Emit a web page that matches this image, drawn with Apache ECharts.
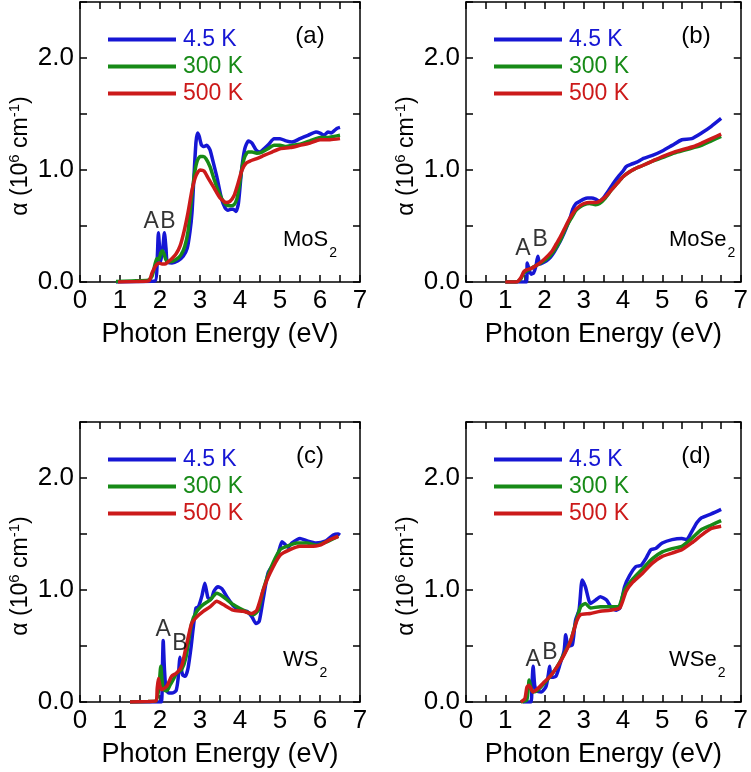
<!DOCTYPE html>
<html>
<head>
<meta charset="utf-8">
<script src="https://cdn.jsdelivr.net/npm/echarts@6/dist/echarts.min.js"></script>
<style>
  html, body { margin: 0; padding: 0; background: #fff; }
  #chart { width: 751px; height: 772px; }
</style>
</head>
<body>
<div id="chart"></div>
<script>
// photon energy (eV), absorption (10^6 cm^-1)
const mos2_4K = [[0.9,0],[1.5,0.005],[1.88,0.01],[1.93,0.2],[1.96,0.44],[1.99,0.3],[2.02,0.18],[2.07,0.3],[2.11,0.44],[2.15,0.3],[2.18,0.18],[2.3,0.17],[2.45,0.19],[2.58,0.23],[2.68,0.3],[2.75,0.45],[2.8,0.62],[2.85,0.95],[2.9,1.25],[2.94,1.33],[2.98,1.3],[3.04,1.22],[3.1,1.21],[3.17,1.22],[3.25,1.18],[3.33,1.07],[3.42,0.94],[3.54,0.74],[3.63,0.66],[3.7,0.64],[3.77,0.65],[3.83,0.65],[3.9,0.63],[3.96,0.7],[4.04,1.0],[4.12,1.19],[4.21,1.26],[4.3,1.24],[4.4,1.18],[4.5,1.16],[4.6,1.19],[4.72,1.23],[4.85,1.28],[5.0,1.28],[5.15,1.26],[5.3,1.25],[5.5,1.28],[5.7,1.31],[5.9,1.34],[6.0,1.33],[6.1,1.31],[6.2,1.34],[6.28,1.33],[6.35,1.35],[6.42,1.37],[6.5,1.38]];
const mos2_300K = [[0.9,0.005],[1.3,0.01],[1.7,0.015],[1.8,0.05],[1.87,0.15],[1.92,0.21],[1.97,0.2],[2.02,0.26],[2.06,0.28],[2.1,0.25],[2.16,0.19],[2.25,0.18],[2.4,0.2],[2.52,0.24],[2.62,0.32],[2.7,0.45],[2.78,0.72],[2.86,0.96],[2.93,1.08],[3.0,1.12],[3.08,1.12],[3.15,1.1],[3.25,1.03],[3.35,0.92],[3.45,0.82],[3.55,0.74],[3.65,0.69],[3.75,0.68],[3.85,0.69],[3.92,0.74],[3.98,0.85],[4.05,1.02],[4.12,1.12],[4.2,1.16],[4.3,1.16],[4.42,1.15],[4.55,1.16],[4.7,1.19],[4.85,1.22],[5.0,1.22],[5.15,1.21],[5.3,1.22],[5.5,1.23],[5.75,1.26],[6.0,1.29],[6.2,1.29],[6.35,1.3],[6.5,1.31]];
const mos2_500K = [[0.95,0],[1.4,0.005],[1.72,0.01],[1.8,0.08],[1.87,0.13],[1.93,0.16],[1.98,0.17],[2.05,0.16],[2.12,0.16],[2.2,0.18],[2.3,0.21],[2.4,0.25],[2.5,0.32],[2.6,0.45],[2.7,0.62],[2.8,0.82],[2.9,0.95],[3.0,1.0],[3.1,0.99],[3.2,0.93],[3.35,0.84],[3.5,0.75],[3.65,0.71],[3.75,0.72],[3.85,0.77],[3.95,0.88],[4.05,1.0],[4.15,1.06],[4.25,1.08],[4.4,1.1],[4.6,1.13],[4.8,1.16],[5.0,1.19],[5.25,1.2],[5.5,1.22],[5.75,1.24],[6.0,1.27],[6.25,1.27],[6.5,1.28]];

const mose2_4K = [[1.0,0],[1.54,0],[1.56,0.17],[1.6,0.12],[1.66,0.07],[1.72,0.08],[1.78,0.14],[1.83,0.23],[1.88,0.16],[1.95,0.17],[2.05,0.19],[2.15,0.22],[2.25,0.27],[2.35,0.33],[2.45,0.4],[2.55,0.48],[2.65,0.57],[2.72,0.65],[2.8,0.7],[2.9,0.72],[3.0,0.74],[3.1,0.75],[3.2,0.75],[3.3,0.74],[3.4,0.72],[3.5,0.75],[3.6,0.8],[3.75,0.88],[3.9,0.95],[4.0,0.99],[4.08,1.03],[4.2,1.05],[4.35,1.07],[4.5,1.1],[4.75,1.13],[5.0,1.17],[5.25,1.22],[5.5,1.27],[5.75,1.28],[6.0,1.33],[6.25,1.39],[6.5,1.46]];
const mose2_300K = [[1.0,0],[1.3,0.003],[1.4,0.03],[1.47,0.08],[1.55,0.1],[1.65,0.12],[1.8,0.15],[1.95,0.18],[2.1,0.22],[2.2,0.26],[2.3,0.31],[2.4,0.37],[2.5,0.45],[2.6,0.52],[2.7,0.58],[2.8,0.64],[2.9,0.67],[3.0,0.69],[3.15,0.7],[3.3,0.69],[3.4,0.7],[3.55,0.75],[3.7,0.82],[3.85,0.88],[4.0,0.94],[4.15,0.98],[4.3,1.01],[4.5,1.04],[4.75,1.08],[5.0,1.11],[5.3,1.15],[5.6,1.18],[5.8,1.2],[6.0,1.22],[6.25,1.26],[6.5,1.3]];
const mose2_500K = [[1.0,0],[1.3,0.003],[1.4,0.04],[1.47,0.09],[1.55,0.11],[1.65,0.12],[1.8,0.15],[1.95,0.19],[2.1,0.24],[2.2,0.28],[2.3,0.34],[2.4,0.4],[2.5,0.47],[2.6,0.54],[2.7,0.6],[2.8,0.65],[2.9,0.68],[3.0,0.7],[3.15,0.71],[3.3,0.71],[3.4,0.72],[3.55,0.76],[3.7,0.82],[3.85,0.88],[4.0,0.94],[4.15,0.98],[4.3,1.01],[4.5,1.04],[4.75,1.08],[5.0,1.12],[5.3,1.16],[5.6,1.19],[5.8,1.21],[6.0,1.24],[6.25,1.28],[6.5,1.32]];

const ws2_4K = [[1.25,0],[2.03,0],[2.06,0.3],[2.08,0.55],[2.11,0.3],[2.15,0.11],[2.22,0.08],[2.3,0.08],[2.4,0.1],[2.45,0.2],[2.5,0.4],[2.53,0.3],[2.57,0.24],[2.63,0.23],[2.7,0.3],[2.78,0.5],[2.83,0.66],[2.9,0.84],[2.96,0.85],[3.05,0.95],[3.12,1.06],[3.2,0.93],[3.28,0.92],[3.35,0.99],[3.45,1.03],[3.55,1.01],[3.67,0.94],[3.83,0.86],[4.0,0.82],[4.17,0.81],[4.3,0.76],[4.4,0.7],[4.48,0.72],[4.58,0.92],[4.7,1.15],[4.85,1.24],[4.95,1.32],[5.05,1.43],[5.12,1.41],[5.2,1.38],[5.3,1.42],[5.5,1.46],[5.67,1.44],[5.9,1.42],[6.15,1.44],[6.33,1.49],[6.45,1.5],[6.5,1.49]];
const ws2_300K = [[1.25,0],[1.7,0.005],[1.9,0.01],[1.97,0.12],[2.02,0.32],[2.05,0.2],[2.09,0.11],[2.17,0.1],[2.25,0.15],[2.33,0.2],[2.42,0.26],[2.54,0.29],[2.65,0.4],[2.79,0.7],[2.92,0.81],[3.08,0.87],[3.25,0.91],[3.42,0.97],[3.58,0.94],[3.83,0.87],[4.08,0.82],[4.33,0.78],[4.46,0.82],[4.58,1.0],[4.75,1.18],[5.0,1.36],[5.17,1.39],[5.42,1.42],[5.67,1.42],[5.92,1.4],[6.17,1.43],[6.46,1.48]];
const ws2_500K = [[1.25,0],[1.7,0.005],[1.9,0.01],[1.93,0.12],[1.96,0.21],[2.0,0.14],[2.04,0.11],[2.17,0.14],[2.29,0.23],[2.42,0.26],[2.54,0.32],[2.67,0.52],[2.79,0.7],[2.92,0.76],[3.08,0.81],[3.25,0.85],[3.42,0.9],[3.58,0.87],[3.83,0.82],[4.08,0.81],[4.29,0.79],[4.42,0.82],[4.58,1.0],[4.75,1.15],[5.0,1.31],[5.25,1.36],[5.5,1.39],[5.75,1.39],[6.0,1.4],[6.25,1.45],[6.46,1.48]];

const wse2_4K = [[1.45,0],[1.65,0],[1.68,0.15],[1.71,0.32],[1.75,0.15],[1.8,0.1],[1.92,0.09],[2.04,0.14],[2.1,0.25],[2.13,0.32],[2.17,0.22],[2.29,0.23],[2.38,0.32],[2.5,0.46],[2.54,0.6],[2.6,0.5],[2.71,0.51],[2.79,0.73],[2.88,0.82],[2.96,1.09],[3.04,1.03],[3.17,0.88],[3.3,0.91],[3.42,0.94],[3.58,0.91],[3.71,0.84],[3.83,0.82],[3.92,0.84],[4.04,1.03],[4.17,1.13],[4.33,1.21],[4.46,1.22],[4.58,1.28],[4.71,1.36],[4.83,1.37],[5.0,1.42],[5.25,1.45],[5.5,1.46],[5.62,1.45],[5.75,1.52],[5.88,1.6],[6.0,1.645],[6.25,1.68],[6.5,1.72]];
const wse2_300K = [[1.4,0],[1.55,0.02],[1.61,0.196],[1.66,0.12],[1.71,0.09],[1.83,0.107],[2.0,0.17],[2.17,0.24],[2.33,0.32],[2.5,0.43],[2.67,0.55],[2.79,0.7],[2.92,0.85],[3.04,0.88],[3.17,0.84],[3.42,0.85],[3.67,0.85],[3.88,0.85],[4.04,1.0],[4.25,1.1],[4.5,1.19],[4.75,1.28],[5.0,1.34],[5.25,1.37],[5.5,1.39],[5.75,1.46],[6.0,1.54],[6.25,1.58],[6.5,1.62]];
const wse2_500K = [[1.4,0],[1.5,0.03],[1.55,0.13],[1.6,0.15],[1.71,0.09],[1.83,0.12],[2.0,0.18],[2.17,0.24],[2.33,0.32],[2.5,0.42],[2.67,0.55],[2.83,0.73],[2.92,0.78],[3.17,0.79],[3.42,0.81],[3.67,0.82],[3.92,0.84],[4.08,0.99],[4.25,1.07],[4.5,1.15],[4.75,1.24],[5.0,1.3],[5.25,1.33],[5.5,1.36],[5.75,1.42],[6.0,1.49],[6.25,1.55],[6.5,1.57]];

// exciton peak labels: [text, energy, alpha]
const mos2_peaks = [['A', 1.78, 0.535], ['B', 2.2, 0.535]];
const mose2_peaks = [['A', 1.45, 0.3], ['B', 1.89, 0.38]];
const ws2_peaks = [['A', 2.08, 0.65], ['B', 2.5, 0.52]];
const wse2_peaks = [['A', 1.71, 0.38], ['B', 2.14, 0.44]];

const temps = ['4.5 K', '300 K', '500 K'];
const colors = ['#1616d4', '#178a17', '#cc1a1a'];
const xTicks = [0, 1, 2, 3, 4, 5, 6, 7];
const yTicks = [0, 1, 2];

const panels = [
  { tag: '(a)', mat: 'MoS', sub: '2', curves: [mos2_4K, mos2_300K, mos2_500K], peaks: mos2_peaks, left: 80, top: 2 },
  { tag: '(b)', mat: 'MoSe', sub: '2', curves: [mose2_4K, mose2_300K, mose2_500K], peaks: mose2_peaks, left: 466, top: 2 },
  { tag: '(c)', mat: 'WS', sub: '2', curves: [ws2_4K, ws2_300K, ws2_500K], peaks: ws2_peaks, left: 80, top: 422 },
  { tag: '(d)', mat: 'WSe', sub: '2', curves: [wse2_4K, wse2_300K, wse2_500K], peaks: wse2_peaks, left: 466, top: 422 }
];

const FONT = 'Liberation Sans, Arial, Helvetica, sans-serif';
const W = 280, H = 280;
const grid = [], xAxis = [], yAxis = [], series = [], legend = [], graphic = [], title = [];

const axisLine = { show: true, onZero: false, lineStyle: { color: '#000', width: 1.5 } };
const tick = { show: true, inside: true, length: 7, lineStyle: { color: '#000', width: 1.5 } };

panels.forEach((p, i) => {
  grid.push({ left: p.left, top: p.top, width: W, height: H });
  xAxis.push({
    gridIndex: i, type: 'value', min: 0, max: 7, interval: 0.5,
    axisLine, axisTick: tick, splitLine: { show: false },
    axisLabel: { fontSize: 26, fontFamily: FONT, color: '#000', margin: 6,
      formatter: v => xTicks.includes(v) ? String(v) : '' },
    name: 'Photon Energy (eV)', nameLocation: 'middle', nameGap: 39,
    nameTextStyle: { fontSize: 27, fontFamily: FONT, color: '#000' }
  });
  xAxis.push({
    gridIndex: i, type: 'value', min: 0, max: 7, interval: 0.5, position: 'top',
    axisLine, axisTick: tick, axisLabel: { show: false }, splitLine: { show: false }
  });
  yAxis.push({
    gridIndex: i, type: 'value', min: 0, max: 2.5, interval: 0.5,
    axisLine, axisTick: tick, splitLine: { show: false },
    axisLabel: { fontSize: 26, fontFamily: FONT, color: '#000', margin: 6,
      formatter: v => yTicks.includes(v) ? v.toFixed(1) : '' },
    name: '{m|α (10}{s|6}{m| cm}{s|-1}{m|)}', nameLocation: 'middle', nameGap: 47, nameRotate: 90,
    nameTextStyle: { fontFamily: FONT, fontSize: 23, color: '#000', padding: [0, 28, 0, 0],
      rich: {
        m: { fontSize: 23, fontFamily: FONT, color: '#000', height: 24, lineHeight: 26, verticalAlign: 'bottom' },
        s: { fontSize: 15, fontFamily: FONT, color: '#000', height: 16, verticalAlign: 'top' }
      } }
  });
  yAxis.push({
    gridIndex: i, type: 'value', min: 0, max: 2.5, interval: 0.5, position: 'right',
    axisLine, axisTick: tick, axisLabel: { show: false }, splitLine: { show: false }
  });

  p.curves.forEach((c, k) => {
    series.push({
      name: temps[k], type: 'line', xAxisIndex: 2 * i, yAxisIndex: 2 * i,
      data: c, showSymbol: false, symbol: 'none', smooth: 0.2,
      lineStyle: { color: colors[k], width: 3.5 }, itemStyle: { color: colors[k] },
      z: 2 + k, silent: true
    });
  });
  series.push({
    type: 'scatter', xAxisIndex: 2 * i, yAxisIndex: 2 * i, symbolSize: 0, silent: true,
    data: p.peaks.map(d => [d[1], d[2], d[0]]),
    label: { show: true, position: 'inside', formatter: q => q.data[2],
      fontSize: 23, fontFamily: FONT, color: '#000' },
    z: 10
  });

  legend.push({
    orient: 'vertical', left: p.left + 28, top: p.top + 26, padding: 0,
    itemWidth: 68, itemHeight: 4, itemGap: 4, icon: 'rect',
    selectedMode: false,
    data: temps.map((t, k) => ({ name: t, itemStyle: { color: colors[k] },
      textStyle: { color: colors[k] } })),
    textStyle: { fontSize: 23, fontFamily: FONT, lineHeight: 23, padding: [0, 0, 0, 2] }
  });

  graphic.push({
    type: 'text', x: p.left + 230, y: p.top + 34,
    style: { text: p.tag, fontSize: 24, fontFamily: FONT, fill: '#000',
      textAlign: 'center', textVerticalAlign: 'middle' }
  });
  title.push({
    left: p.left + 203, top: p.top + 226, padding: 0,
    text: '{m|' + p.mat + '}{s|' + p.sub + '}',
    textStyle: {
      fontSize: 22, fontWeight: 'normal', fontFamily: FONT, color: '#000',
      rich: {
        m: { fontSize: 22, fontWeight: 'normal', fontFamily: FONT, color: '#000', height: 24, lineHeight: 33, verticalAlign: 'top' },
        s: { fontSize: 14, fontWeight: 'normal', fontFamily: FONT, color: '#000', height: 16, verticalAlign: 'bottom', padding: [0, 0, 0, 1] }
      }
    }
  });
});

const chart = echarts.init(document.getElementById('chart'));
chart.setOption({
  animation: false,
  backgroundColor: '#fff',
  grid, xAxis, yAxis, series, legend, graphic, title
});
</script>
</body>
</html>
